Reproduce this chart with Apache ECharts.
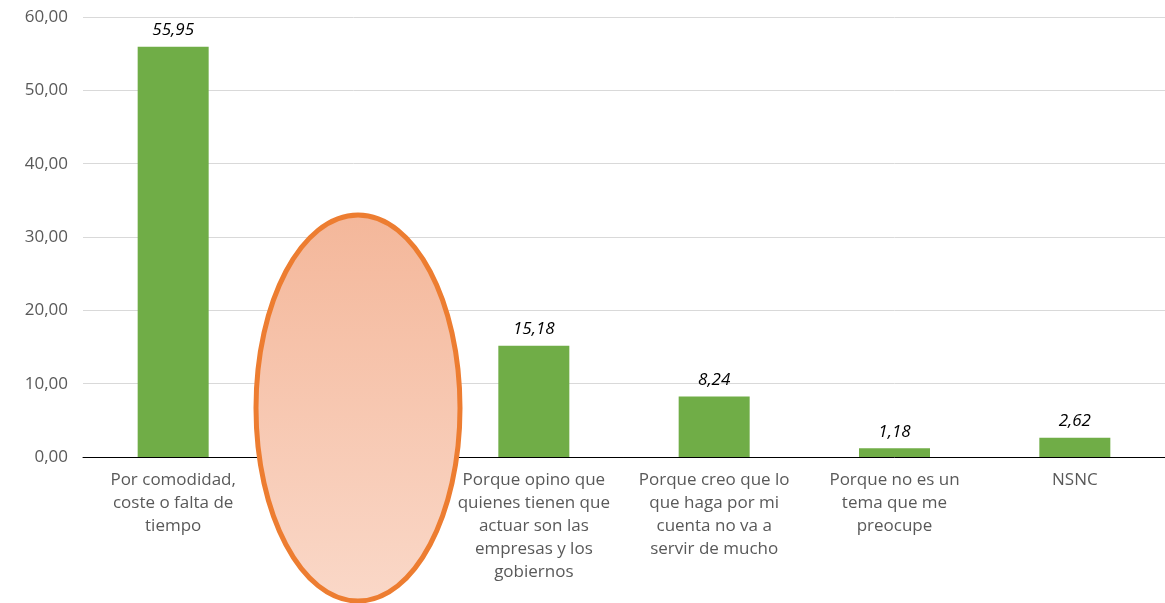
<!DOCTYPE html>
<html>
<head>
<meta charset="utf-8">
<script src="https://cdn.jsdelivr.net/npm/echarts@6/dist/echarts.min.js"></script>
<style>
  html, body { margin: 0; padding: 0; background: #fff; }
  #chart { width: 1165px; height: 603px; }
</style>
</head>
<body>
<div id="chart"></div>
<script>
// categories (second one is hidden under the ellipse in the original)
const categories = [
  'Por comodidad,\ncoste o falta de\ntiempo',
  '',
  'Porque opino que\nquienes tienen que\nactuar son las\nempresas y los\ngobiernos',
  'Porque creo que lo\nque haga por mi\ncuenta no va a\nservir de mucho',
  'Porque no es un\ntema que me\npreocupe',
  'NSNC'
]
const values = [55.95, 16.83, 15.18, 8.24, 1.18, 2.62]
const yTicks = [0, 10, 20, 30, 40, 50, 60]

const fmt = v => v.toFixed(2).replace('.', ',')
const font = 'Open Sans'

const myChart = echarts.init(document.getElementById('chart'))

const option = {
  animation: false,
  grid: {
    left: 83,
    right: 0,
    top: 17,
    bottom: 146,
    containLabel: false
  },
  xAxis: {
    type: 'category',
    data: categories,
    axisTick: { show: false },
    axisLine: { lineStyle: { color: '#000', width: 1 } },
    axisLabel: {
      interval: 0,
      color: '#595959',
      fontFamily: font,
      fontSize: 17,
      lineHeight: 23,
      margin: 12
    }
  },
  yAxis: {
    type: 'value',
    min: yTicks[0],
    max: yTicks[yTicks.length - 1],
    interval: 10,
    axisLine: { show: false },
    axisTick: { show: false },
    splitLine: { lineStyle: { color: '#d9d9d9', width: 1 } },
    axisLabel: {
      color: '#595959',
      fontFamily: font,
      fontSize: 17,
      margin: 15,
      formatter: v => fmt(v)
    }
  },
  series: [
    {
      type: 'bar',
      data: values,
      barWidth: 71,
      itemStyle: { color: '#70AD47' },
      label: {
        show: true,
        position: 'top',
        distance: 8,
        color: '#000',
        fontFamily: font,
        fontStyle: 'italic',
        fontSize: 17,
        formatter: p => fmt(p.value)
      }
    }
  ],
  graphic: [
    {
      type: 'ellipse',
      z: 100,
      shape: { cx: 358, cy: 408, rx: 102, ry: 193 },
      style: {
        fill: new echarts.graphic.LinearGradient(0, 0, 0, 1, [
          { offset: 0, color: '#F4B79A' },
          { offset: 1, color: '#FAD8C8' }
        ]),
        stroke: '#ED7D31',
        lineWidth: 5
      }
    }
  ]
}

myChart.setOption(option)
</script>
</body>
</html>
